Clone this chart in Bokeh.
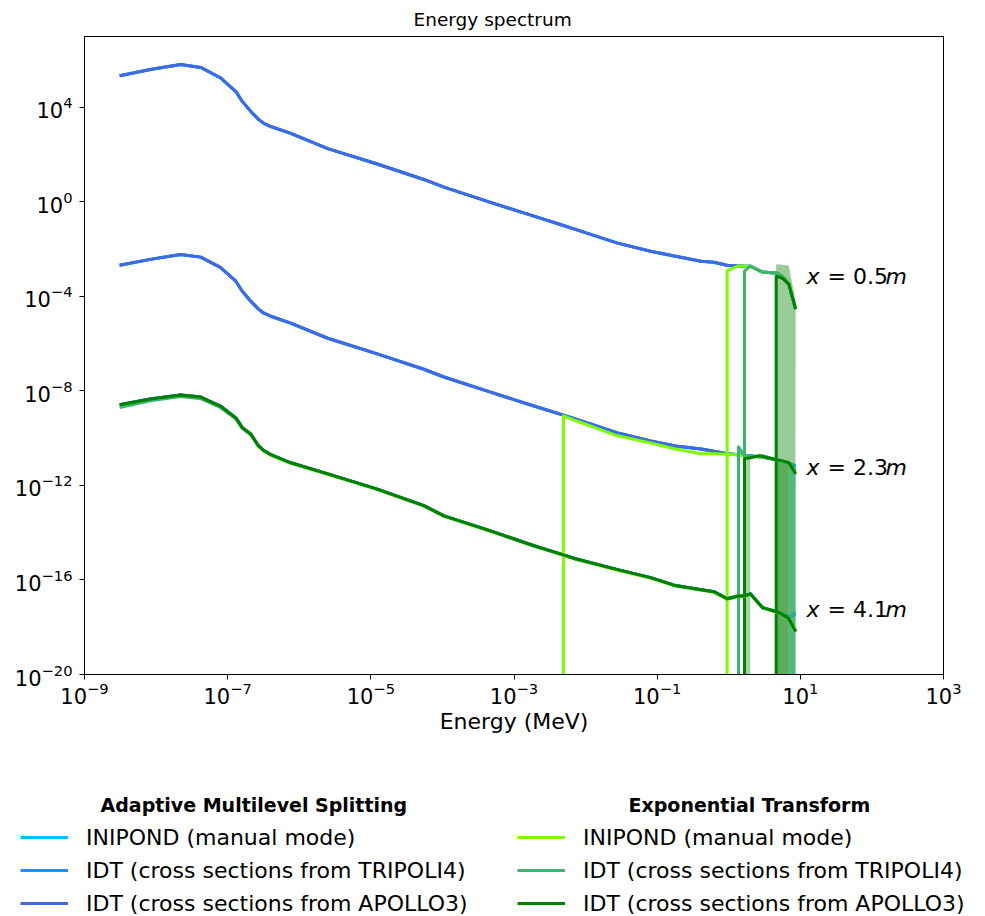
from bokeh.plotting import figure
from bokeh.models import Range1d, FixedTicker, Label, Legend, LegendItem
from bokeh.layouts import column, row
from bokeh.embed import file_html
from bokeh.resources import INLINE

# ---------------- data ----------------
ZERO = 1e-300  # zero tally (drawn as a drop to the bottom on a log axis)
NAN = float("nan")

energy = [3.1e-9, 8.3e-9, 2.2e-8, 4.2e-8, 7.9e-8, 1.3e-7, 1.6e-7, 2.1e-7, 2.7e-7, 3.2e-7,
          4.0e-7, 7.6e-7, 2.5e-6, 1.2e-5, 5.5e-5, 1.05e-4, 4.7e-4, 1.9e-3, 4.9e-3, 7.2e-3,
          2.8e-2, 8.1e-2, 0.18, 0.41, 0.62, 0.95, 1.37, 1.66, 2.0, 2.95, 4.8, 5.6,
          6.9, 8.6]

# Adaptive Multilevel Splitting
ams_inipond_05 = [2.2e5, 4.0e5, 6.5e5, 4.9e5, 1.8e5, 4.7e4, 1.8e4, 6.8e3, 3.1e3, 2.1e3,
                  1.55e3, 7.9e2, 1.8e2, 41, 8.9, 4.2, 0.95, 0.25, 0.10, 6.9e-2,
                  1.8e-2, 8.1e-3, 5.0e-3, 3.1e-3, 2.8e-3, 2.1e-3, 2.0e-3, 1.9e-3, 1.9e-3,
                  1.07e-3, 9.5e-4, 7.2e-4, 3.3e-4, 2.9e-5]
ams_t4_05 = [2.2e5, 4.0e5, 6.5e5, 4.9e5, 1.8e5, 4.7e4, 1.8e4, 6.8e3, 3.1e3, 2.1e3,
             1.55e3, 7.9e2, 1.8e2, 41, 8.9, 4.2, 0.95, 0.25, 0.10, 6.9e-2,
             1.8e-2, 8.1e-3, 5.0e-3, 3.1e-3, 2.8e-3, 2.1e-3, 2.0e-3, 1.9e-3, 1.9e-3,
             1.07e-3, 9.5e-4, 7.2e-4, 3.3e-4, 2.9e-5]
ams_a3_05 = [2.2e5, 4.0e5, 6.5e5, 4.9e5, 1.8e5, 4.7e4, 1.8e4, 6.8e3, 3.1e3, 2.1e3,
             1.55e3, 7.9e2, 1.8e2, 41, 8.9, 4.2, 0.95, 0.25, 0.10, 6.9e-2,
             1.8e-2, 8.1e-3, 5.0e-3, 3.1e-3, 2.8e-3, 2.1e-3, 2.0e-3, 1.9e-3, 1.9e-3,
             1.07e-3, 9.5e-4, 7.2e-4, 3.3e-4, 2.9e-5]

ams_inipond_23 = [2.1e-3, 3.7e-3, 6.0e-3, 4.6e-3, 1.7e-3, 4.4e-4, 1.66e-4, 6.3e-5, 2.9e-5,
                  1.95e-5, 1.45e-5, 7.4e-6, 1.7e-6, 3.8e-7, 8.3e-8, 3.9e-8, 8.9e-9, 2.3e-9,
                  9.5e-10, 6.5e-10, 1.66e-10, 7.6e-11, 4.7e-11, 3.5e-11, 2.8e-11, 2.2e-11,
                  2.0e-11, 1.8e-11, 1.75e-11, 1.6e-11, 1.2e-11, 1.1e-11, 8.9e-12, 6.8e-12]
ams_t4_23 = [2.1e-3, 3.7e-3, 6.0e-3, 4.6e-3, 1.7e-3, 4.4e-4, 1.66e-4, 6.3e-5, 2.9e-5,
             1.95e-5, 1.45e-5, 7.4e-6, 1.7e-6, 3.8e-7, 8.3e-8, 3.9e-8, 8.9e-9, 2.3e-9,
             9.5e-10, 6.5e-10, 1.66e-10, 7.6e-11, 4.7e-11, 3.5e-11, 2.8e-11, 2.2e-11,
             2.0e-11, 1.8e-11, 1.75e-11, 1.6e-11, 1.2e-11, 1.1e-11, 8.9e-12, 6.0e-12]
ams_a3_23 = [2.1e-3, 3.7e-3, 6.0e-3, 4.6e-3, 1.7e-3, 4.4e-4, 1.66e-4, 6.3e-5, 2.9e-5,
             1.95e-5, 1.45e-5, 7.4e-6, 1.7e-6, 3.8e-7, 8.3e-8, 3.9e-8, 8.9e-9, 2.3e-9,
             9.5e-10, 6.5e-10, 1.66e-10, 7.6e-11, 4.7e-11, 3.5e-11, 2.8e-11, 2.2e-11,
             2.0e-11, 1.8e-11, 1.75e-11, 1.6e-11, 1.2e-11, 1.1e-11, 8.9e-12, 3.1e-12]

ams_inipond_41 = [2.6e-9, 4.6e-9, 6.8e-9, 5.5e-9, 2.3e-9, 7.2e-10, 2.8e-10, 1.5e-10, 4.7e-11,
                  3.0e-11, 2.0e-11, 9.1e-12, 3.1e-12, 7.2e-13, 1.4e-13, 5.2e-14, 1.2e-14,
                  2.8e-15, 1.15e-15, 7.9e-16, 2.75e-16, 1.26e-16, 5.8e-17, 3.9e-17, 3.2e-17,
                  1.6e-17, 2.1e-17, 2.1e-17, 2.6e-17, 6.8e-18, 4.4e-18, 3.5e-18, 2.8e-18, 4.2e-18]
ams_t4_41 = [2.6e-9, 4.6e-9, 6.8e-9, 5.5e-9, 2.3e-9, 7.2e-10, 2.8e-10, 1.5e-10, 4.7e-11,
             3.0e-11, 2.0e-11, 9.1e-12, 3.1e-12, 7.2e-13, 1.4e-13, 5.2e-14, 1.2e-14,
             2.8e-15, 1.15e-15, 7.9e-16, 2.75e-16, 1.26e-16, 5.8e-17, 3.9e-17, 3.2e-17,
             1.6e-17, 2.1e-17, 2.1e-17, 2.6e-17, 6.8e-18, 4.4e-18, 3.5e-18, 2.6e-18, 3.4e-18]
ams_a3_41 = [2.6e-9, 4.6e-9, 6.8e-9, 5.5e-9, 2.3e-9, 7.2e-10, 2.8e-10, 1.5e-10, 4.7e-11,
             3.0e-11, 2.0e-11, 9.1e-12, 3.1e-12, 7.2e-13, 1.4e-13, 5.2e-14, 1.2e-14,
             2.8e-15, 1.15e-15, 7.9e-16, 2.75e-16, 1.26e-16, 5.8e-17, 3.9e-17, 3.2e-17,
             1.6e-17, 2.1e-17, 2.1e-17, 2.6e-17, 6.8e-18, 4.4e-18, 3.5e-18, 2.3e-18, 6.6e-19]

# Exponential Transform (leading ZERO = bins with no score)
et_inipond_05_e = [0.95, 0.95, 1.37, 1.66, 2.0, 2.95, 4.8, 5.6, 6.9, 8.6]
et_inipond_05 = [ZERO, 1.2e-3, 2.0e-3, 1.9e-3, 1.9e-3, 1.07e-3, 9.5e-4, 7.2e-4, 3.3e-4, 2.9e-5]
et_t4_05_e = [1.66, 1.66, 2.0, 2.95, 4.8, 5.6, 6.9, 8.6]
et_t4_05 = [ZERO, 1.17e-3, 1.9e-3, 1.07e-3, 9.5e-4, 7.2e-4, 3.3e-4, 2.9e-5]
et_a3_05_e = [4.6, 4.6, 5.6, 6.9, 8.6]
et_a3_05 = [ZERO, 7.2e-4, 5.9e-4, 3.3e-4, 2.9e-5]

et_inipond_23_e = [4.9e-3, 4.9e-3, 7.2e-3, 2.8e-2, 8.1e-2, 0.18, 0.41, 0.62, 0.95, 1.37, 1.66,
                   2.0, 2.95, 4.8, 5.6, 6.9, 8.6]
et_inipond_23 = [ZERO, 8.7e-10, 5.6e-10, 1.26e-10, 6.3e-11, 3.5e-11, 2.2e-11, 2.2e-11, 2.1e-11,
                 1.95e-11, 1.75e-11, 1.66e-11, 1.6e-11, 1.2e-11, 1.1e-11, 8.9e-12, 3.1e-12]
et_t4_23_e = [1.37, 1.37, 1.66, 2.0, 2.95, 4.8, 5.6, 6.9, 8.6]
et_t4_23 = [ZERO, 4.3e-11, 1.75e-11, 1.66e-11, 1.8e-11, 1.2e-11, 1.1e-11, 8.9e-12, 4.0e-12]
et_a3_23_e = [1.66, 1.66, 2.0, 2.7, 4.8, 5.6, 6.9, 8.6]
et_a3_23 = [ZERO, 1.35e-11, 1.5e-11, 1.8e-11, 1.2e-11, 1.1e-11, 9.1e-12, 3.1e-12]

et_inipond_41 = [2.5e-9, 4.4e-9, 6.6e-9, 5.3e-9, 2.2e-9, 7.0e-10, 2.7e-10, 1.45e-10, 4.5e-11,
                 2.9e-11, 1.9e-11, 8.7e-12, 2.95e-12, 6.9e-13, 1.35e-13, 5.0e-14, 1.15e-14,
                 2.7e-15, 1.1e-15, 7.5e-16, 2.6e-16, 1.2e-16, 5.5e-17, 3.7e-17, 3.0e-17,
                 1.5e-17, 2.0e-17, 2.0e-17, 2.5e-17, 6.5e-18, 4.2e-18, 3.3e-18, 2.2e-18, 6.2e-19]
et_t4_41 = [2.0e-9, 3.8e-9, 5.8e-9, 4.7e-9, 2.0e-9, 6.6e-10, 2.6e-10, 1.4e-10, 4.6e-11,
            3.0e-11, 2.0e-11, 9.1e-12, 3.1e-12, 7.2e-13, 1.4e-13, 5.2e-14, 1.2e-14,
            2.8e-15, 1.15e-15, 7.9e-16, 2.75e-16, 1.26e-16, 5.8e-17, 3.9e-17, 3.2e-17,
            1.6e-17, 2.1e-17, 2.1e-17, 2.6e-17, 6.8e-18, 4.4e-18, 3.5e-18, 2.3e-18, 6.6e-19]
et_a3_41 = [2.6e-9, 4.6e-9, 6.8e-9, 5.5e-9, 2.3e-9, 7.2e-10, 2.8e-10, 1.5e-10, 4.7e-11,
            3.0e-11, 2.0e-11, 9.1e-12, 3.1e-12, 7.2e-13, 1.4e-13, 5.2e-14, 1.2e-14,
            2.8e-15, 1.15e-15, 7.9e-16, 2.75e-16, 1.26e-16, 5.8e-17, 3.9e-17, 3.2e-17,
            1.6e-17, 2.1e-17, 2.1e-17, 2.6e-17, 6.8e-18, 4.4e-18, 3.5e-18, 2.3e-18, 6.6e-19]

# Exponential Transform confidence bands
band_a3_05_e = [4.6, 5.6, 6.9, 8.6]
band_a3_05_lo = [ZERO, ZERO, ZERO, 1.1e-5]
band_a3_05_hi = [2.3e-3, 2.2e-3, 2.0e-3, 6.0e-5]
band_a3_23a_e = [1.66, 2.0]
band_a3_23a_lo = [ZERO, ZERO]
band_a3_23a_hi = [2.0e-11, 1.9e-11]
band_a3_23b_e = [4.7, 6.8]
band_a3_23b_lo = [ZERO, ZERO]
band_a3_23b_hi = [1.4e-11, 1.1e-11]
band_t4_23_e = [6.8, 8.6]
band_t4_23_lo = [ZERO, ZERO]
band_t4_23_hi = [9.5e-12, 7.0e-12]

distance_labels = ["0.5", "2.3", "4.1"]
label_energy = 12.2
label_values = [7.2e-4, 5.6e-12, 5.6e-18]

x_ticks = [1e-9, 1e-7, 1e-5, 1e-3, 1e-1, 1e1, 1e3]
y_ticks = [1e-20, 1e-16, 1e-12, 1e-8, 1e-4, 1e0, 1e4]

title_text = "Energy spectrum"
legend_ams = ["INIPOND (manual mode)", "IDT (cross sections from TRIPOLI4)",
              "IDT (cross sections from APOLLO3)"]
legend_et = ["INIPOND (manual mode)", "IDT (cross sections from TRIPOLI4)",
             "IDT (cross sections from APOLLO3)"]

C_AMS = ["deepskyblue", "dodgerblue", "royalblue"]
C_ET = ["lawngreen", "mediumseagreen", "green"]
FONT = "DejaVu Sans"
LW = 3

# ---------------- main plot ----------------
p = figure(width=985, height=780, x_axis_type="log", y_axis_type="log",
           x_range=Range1d(1e-9, 1e3), y_range=Range1d(1e-20, 1e7),
           output_backend="svg", toolbar_location=None,
           min_border_left=84, min_border_right=42, min_border_top=36, min_border_bottom=106,
           title=title_text)
p.title.align = "left"
p.title.offset = 329
p.title.standoff = 10
p.title.vertical_align = "top"
p.title.text_font = FONT
p.title.text_font_size = "18.5px"
p.title.text_font_style = "normal"
p.title.text_color = "black"
p.grid.visible = False
p.outline_line_color = "black"
p.outline_line_width = 1
p.xaxis.ticker = FixedTicker(ticks=x_ticks, minor_ticks=[])
p.yaxis.ticker = FixedTicker(ticks=y_ticks, minor_ticks=[])
for ax in (p.xaxis, p.yaxis):
    ax.major_label_text_font = FONT
    ax.major_label_text_font_size = "21px"
    ax.major_label_text_color = "black"
    ax.major_tick_out = 5
    ax.major_tick_in = 0
    ax.minor_tick_line_color = None
    ax.axis_line_color = "black"
    ax.major_tick_line_color = "black"
p.yaxis.major_label_standoff = 7
p.xaxis.major_label_standoff = 2
p.xaxis.axis_label = "Energy (MeV)"
p.xaxis.axis_label_text_font = FONT
p.xaxis.axis_label_text_font_size = "22px"
p.xaxis.axis_label_text_font_style = "normal"
p.xaxis.axis_label_text_color = "black"
p.xaxis.axis_label_standoff = 2

ams_series = [
    (ams_inipond_05, ams_t4_05, ams_a3_05),
    (ams_inipond_23, ams_t4_23, ams_a3_23),
    (ams_inipond_41, ams_t4_41, ams_a3_41),
]
for group in ams_series:
    for vals, c in zip(group, C_AMS):
        p.line(energy, vals, line_color=c, line_width=LW, line_join="round")

bands = [
    (band_a3_05_e, band_a3_05_lo, band_a3_05_hi, "green", 0.4),
    (band_a3_23a_e, band_a3_23a_lo, band_a3_23a_hi, "green", 0.35),
    (band_a3_23b_e, band_a3_23b_lo, band_a3_23b_hi, "green", 0.4),
    (band_t4_23_e, band_t4_23_lo, band_t4_23_hi, "mediumseagreen", 0.75),
]
for be, blo, bhi, c, a in bands:
    p.varea(x=be, y1=blo, y2=bhi, fill_color=c, fill_alpha=a)

et_series = [
    [(et_inipond_05_e, et_inipond_05), (et_t4_05_e, et_t4_05), (et_a3_05_e, et_a3_05)],
    [(et_inipond_23_e, et_inipond_23), (et_t4_23_e, et_t4_23), (et_a3_23_e, et_a3_23)],
    [(energy, et_inipond_41), (energy, et_t4_41), (energy, et_a3_41)],
]
for group in et_series:
    for (ee, vv), c in zip(group, C_ET):
        p.line(ee, vv, line_color=c, line_width=LW, line_join="round")

for d, yv in zip(distance_labels, label_values):
    for txt, off, style in (("x", 0, "italic"), ("= " + d, 21, "normal"), ("m", 79, "italic")):
        p.add_layout(Label(x=label_energy, y=yv, text=txt, x_offset=off,
                           text_font=FONT, text_font_size="22px", text_font_style=style,
                           text_baseline="middle", text_align="left", text_color="black"))


# ---------------- legends ----------------
def legend_fig(title, names, colors, width, title_offset, pad_left):
    f = figure(width=width, height=136, output_backend="svg", toolbar_location=None,
               x_range=Range1d(0, 1), y_range=Range1d(0, 1), min_border=0,
               min_border_top=40, title=title)
    f.axis.visible = False
    f.grid.visible = False
    f.outline_line_color = None
    f.title.align = "left"
    f.title.offset = title_offset
    f.title.text_font = FONT
    f.title.text_font_size = "19px"
    f.title.text_font_style = "bold"
    f.title.text_color = "black"
    items = []
    for n, c in zip(names, colors):
        r = f.line(x=[NAN], y=[NAN], line_color=c, line_width=LW)
        items.append(LegendItem(label=n, renderers=[r]))
    leg = Legend(items=items, location=(pad_left, 0), orientation="vertical",
                 label_text_font=FONT, label_text_font_size="22px", label_text_color="black",
                 glyph_width=48, glyph_height=26, label_height=26, label_standoff=18,
                 spacing=7, padding=0, margin=0, border_line_color=None,
                 background_fill_alpha=0)
    f.add_layout(leg)
    return f


leg_a = legend_fig("Adaptive Multilevel Splitting", legend_ams, C_AMS, 492, 100, 20)
leg_b = legend_fig("Exponential Transform", legend_et, C_ET, 493, 136, 25)

layout = column(p, row(leg_a, leg_b))
open("out.html", "w").write(file_html(layout, INLINE))
